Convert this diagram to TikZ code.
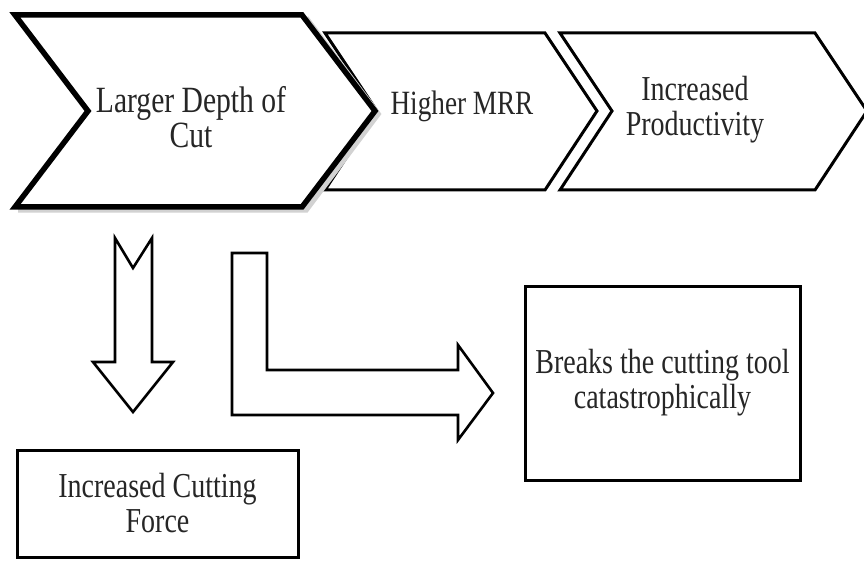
\documentclass[tikz,border=0pt]{standalone}
\usepackage{fontspec}
\setmainfont{Liberation Serif}[FakeStretch=0.8]
\usepackage{tikz}
\usetikzlibrary{positioning}
\tikzstyle{chev}=[draw,fill=white,line width=3pt,line join=miter]
\tikzstyle{bigchev}=[chev,line width=5.5pt]
\tikzstyle{blk}=[draw,fill=white,line width=2.6pt,line join=miter]
\tikzstyle{Abox}=[draw,line width=3pt,inner sep=0]
\tikzstyle{Atxt}=[align=center,text=black!85,inner sep=0,
                font=\fontsize{35}{35}\selectfont]

\begin{document}
\begin{tikzpicture}[x=1pt,y=-1pt]
\clip (0,0) rectangle (864,561);
\fill[white] (0,0) rectangle (864,561);

% chevrons, back to front
\draw[chev] (560,33) -- (815,33) -- (867,111) -- (815,190) -- (560,190) -- (612,111) -- cycle;
\draw[chev] (325,33) -- (545,33) -- (597,111) -- (545,190) -- (325,190) -- (377,111) -- cycle;
\draw[line width=5.5pt,gray!35,line join=miter] (306,18) -- (378,114) -- (306,210) -- (18,210);
\draw[bigchev] (15,15) -- (302,15) -- (375,111) -- (302,207) -- (15,207) -- (88,111) -- cycle;

\node[Atxt,font=\fontsize{37}{35}\selectfont] (depth) at (191,117) {Larger Depth of\\Cut};
\node[Atxt,font=\fontsize{34}{35}\selectfont] (mrr) at (462,106) {Higher MRR};
\node[Atxt] (prod) at (695,110) {Increased\\Productivity};

% outcome boxes
\node[Abox,minimum width=281,minimum height=107] (force) at (157.5,503.5) {};
\node[Atxt] at (force.center) {Increased Cutting\\Force};
\node[Abox,minimum width=275,minimum height=194] (brk) at (662.5,383) {};
\node[Atxt] at (brk.center) {Breaks the cutting tool\\catastrophically};

% block arrows
\draw[blk] (115,238) -- (133,268) -- (152,238) -- (152,362) -- (173,362)
  -- (133,412) -- (93,362) -- (115,362) -- cycle;
\draw[blk] (232,253) -- (267,253) -- (267,370) -- (458,370) -- (458,345)
  -- (493,393) -- (458,440) -- (458,415) -- (232,415) -- cycle;
\end{tikzpicture}
\end{document}
